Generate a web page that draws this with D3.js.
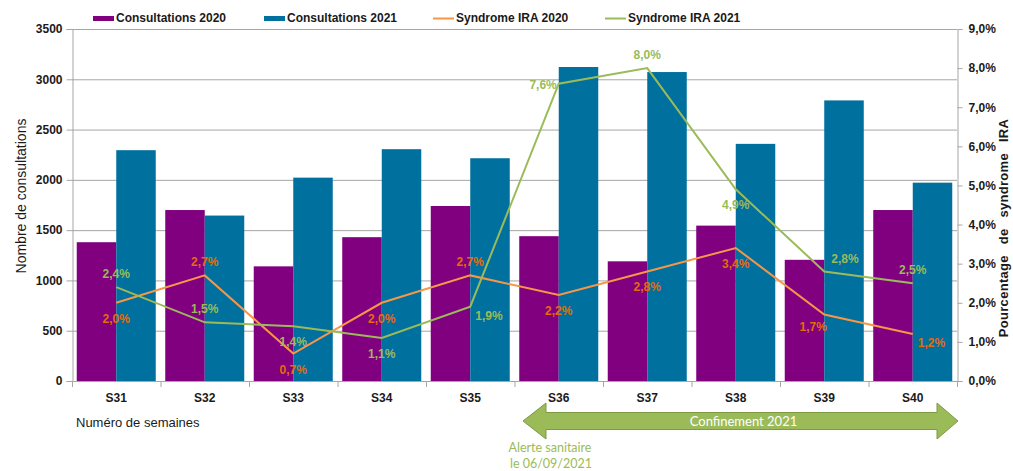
<!DOCTYPE html>
<html><head><meta charset="utf-8">
<script src="https://cdn.jsdelivr.net/npm/d3@7"></script>
<style>
html,body{margin:0;padding:0;background:#fff;}
svg{display:block;font-family:"Liberation Sans",Arial,sans-serif;}
</style></head>
<body>
<svg id="chart" width="1013" height="471"></svg>
<script>
const weeks = ["S31","S32","S33","S34","S35","S36","S37","S38","S39","S40"];
const consult2020 = [1380,1700,1140,1430,1740,1440,1190,1545,1205,1700];
const consult2021 = [2295,1645,2022,2305,2215,3122,3072,2358,2790,1972];
const ira2020 = [2.0,2.7,0.7,2.0,2.7,2.2,2.8,3.4,1.7,1.2];
const ira2021 = [2.4,1.5,1.4,1.1,1.9,7.6,8.0,4.9,2.8,2.5];
const leftTicks = [0,500,1000,1500,2000,2500,3000,3500];
const rightTicks = [0,1,2,3,4,5,6,7,8,9];
const legendLabels = ["Consultations 2020","Consultations 2021","Syndrome IRA 2020","Syndrome IRA 2021"];
// label placement keywords (t=top, b=bottom, l=left, br=bottom-right, bl=bottom-left, tr=top-right)
const place2020 = ["b","t","b","b","t","b","b","b","bl","br"];
const place2021 = ["t","t","b","b","br","l","t","b","tr","t"];
const arrowFrom = "S36", arrowTo = "S40";

const C = {p:"#800080", b:"#00709E", o:"#F79646", g:"#9BBB59", oText:"#E46C0A", gText:"#9BBB59", grid:"#A6A6A6"};
const svg = d3.select("#chart");
const L = 72, R = 957, T = 29, B = 381;

const x = d3.scaleBand().domain(weeks).range([L,R]).paddingInner(0).paddingOuter(0);
const xs = d3.scaleBand().domain(["a","b"]).range([0,x.bandwidth()]).paddingOuter(0.12).paddingInner(0);
const y = d3.scaleLinear().domain([0,3500]).range([B,T]);
const yr = d3.scaleLinear().domain([0,9]).range([B,T]);

// gridlines
svg.append("g").selectAll("line").data(leftTicks.filter(d=>d>0)).join("line")
  .attr("x1",L).attr("x2",R).attr("y1",d=>y(d)+0.5).attr("y2",d=>y(d)+0.5)
  .attr("stroke",C.grid).attr("stroke-width",1);

// bars
const g = svg.append("g");
g.selectAll("rect.a").data(weeks).join("rect").attr("class","a")
  .attr("x",d=>x(d)+xs("a")).attr("width",xs.bandwidth())
  .attr("y",(d,i)=>y(consult2020[i])).attr("height",(d,i)=>B-y(consult2020[i]))
  .attr("fill",C.p);
g.selectAll("rect.b").data(weeks).join("rect").attr("class","b")
  .attr("x",d=>x(d)+xs("b")).attr("width",xs.bandwidth())
  .attr("y",(d,i)=>y(consult2021[i])).attr("height",(d,i)=>B-y(consult2021[i]))
  .attr("fill",C.b);

// axes
const axL = svg.append("g").attr("transform",`translate(${L+0.5},0)`)
  .call(d3.axisLeft(y).tickValues(leftTicks).tickSize(6).tickPadding(4).tickFormat(d3.format("d")));
const axR = svg.append("g").attr("transform",`translate(${R+0.5},0)`)
  .call(d3.axisRight(yr).tickValues(rightTicks).tickSize(5).tickPadding(6).tickFormat(d=>d.toFixed(1).replace(".",",")+"%"));
[axL,axR].forEach(a=>{
  a.select(".domain").attr("stroke",C.grid);
  a.selectAll(".tick line").attr("stroke",C.grid);
  a.selectAll(".tick text").attr("fill","#1a1a1a").attr("font-size",12).attr("font-weight","bold")
    .attr("font-family","'Liberation Sans',Arial,sans-serif");
});
// x axis
svg.append("line").attr("x1",L).attr("x2",R+1).attr("y1",B+0.5).attr("y2",B+0.5).attr("stroke",C.grid);
const xb = weeks.map(d=>x(d)).concat([x.range()[1]]);
svg.append("g").selectAll("line").data(xb).join("line")
  .attr("x1",d=>d+0.5).attr("x2",d=>d+0.5).attr("y1",B).attr("y2",B+6).attr("stroke",C.grid);
svg.append("g").selectAll("text").data(weeks).join("text")
  .attr("x",d=>x(d)+x.bandwidth()/2).attr("y",B+21).attr("text-anchor","middle")
  .attr("font-size",12).attr("font-weight","bold").attr("fill","#1a1a1a").text(d=>d);

// lines
const cx = d=>x(d)+x.bandwidth()/2;
const line = d3.line().x((d,i)=>cx(weeks[i])).y(d=>yr(d));
svg.append("path").datum(ira2020).attr("d",line).attr("fill","none").attr("stroke",C.o).attr("stroke-width",2);
svg.append("path").datum(ira2021).attr("d",line).attr("fill","none").attr("stroke",C.g).attr("stroke-width",2);

// labels
const off = {t:["middle",0,-9], b:["middle",0,20], l:["end",-2,5], br:["start",5,13], bl:["middle",-11,16], tr:["start",7,-8]};
function labels(vals, pl, col){
  svg.append("g").selectAll("text").data(vals).join("text")
    .attr("x",(d,i)=>cx(weeks[i])+off[pl[i]][1]).attr("y",(d,i)=>yr(d)+off[pl[i]][2])
    .attr("text-anchor",(d,i)=>off[pl[i]][0])
    .attr("font-size",12).attr("font-weight","bold").attr("fill",col)
    .text(d=>d.toFixed(1).replace(".",",")+"%");
}
labels(ira2020, place2020, C.oText);
labels(ira2021, place2021, C.gText);

// axis titles
svg.append("text").attr("transform","translate(26,196) rotate(-90)").attr("text-anchor","middle")
  .attr("font-size",14).attr("fill","#1a1a1a").text("Nombre de consultations");
svg.append("text").attr("transform","translate(1008,228) rotate(-90)").attr("text-anchor","middle")
  .attr("font-size",13).attr("font-weight","bold").attr("word-spacing","7px").attr("letter-spacing","0.3px").attr("fill","#1a1a1a")
  .text("Pourcentage de syndrome IRA");
svg.append("text").attr("x",76).attr("y",427).attr("font-size",13).attr("fill","#1a1a1a").text("Numéro de semaines");

// legend
const lg = svg.append("g");
const legX = [93,264,433,605];
legendLabels.forEach((t,i)=>{
  if(i<2) lg.append("rect").attr("x",legX[i]).attr("y",16).attr("width",21).attr("height",5).attr("fill",[C.p,C.b][i]);
  else lg.append("line").attr("x1",legX[i]).attr("x2",legX[i]+21).attr("y1",18.5).attr("y2",18.5).attr("stroke",[C.o,C.g][i-2]).attr("stroke-width",2);
  lg.append("text").attr("x",legX[i]+23).attr("y",22).attr("font-size",12).attr("font-weight","bold").attr("fill","#1a1a1a").text(t);
});

// arrow
const ax0 = x(arrowFrom)+8.5, ax1 = x(arrowTo)+x.bandwidth()+1, ay = 421;
const hl = 23, hh = 18, sh = 8.5;
const pts = [[ax0,ay],[ax0+hl,ay-hh],[ax0+hl,ay-sh],[ax1-hl+2,ay-sh],[ax1-hl+2,ay-hh],[ax1,ay],[ax1-hl+2,ay+hh],[ax1-hl+2,ay+sh],[ax0+hl,ay+sh],[ax0+hl,ay+hh]];
svg.append("path").attr("d","M"+pts.map(p=>p.join(",")).join("L")+"Z")
  .attr("fill",C.g).attr("stroke","#7E9A45").attr("stroke-width",1);
svg.append("text").attr("x",(ax0+ax1)/2+3).attr("y",ay+4.5).attr("text-anchor","middle")
  .attr("font-family","Lato,'Open Sans',sans-serif").attr("font-size",13).attr("fill","#fff").text("Confinement 2021");
svg.append("text").attr("x",550).attr("y",452).attr("text-anchor","middle")
  .attr("font-family","Lato,'Open Sans',sans-serif").attr("font-size",12.5).attr("fill",C.g).text("Alerte sanitaire");
svg.append("text").attr("x",551).attr("y",468).attr("text-anchor","middle")
  .attr("font-family","Lato,'Open Sans',sans-serif").attr("font-size",12.5).attr("fill",C.g).text("le 06/09/2021");
</script>
</body></html>
